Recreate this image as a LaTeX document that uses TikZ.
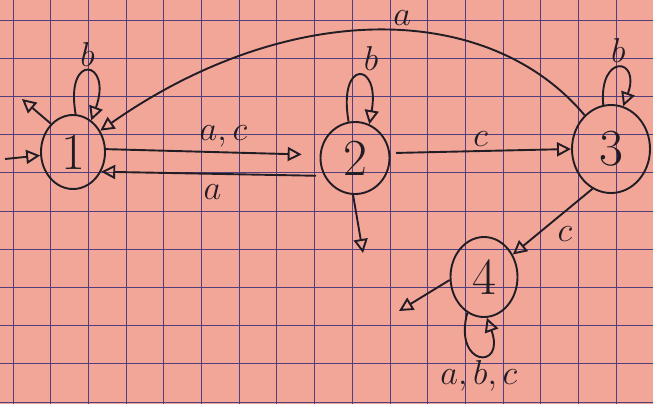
\documentclass[tikz,border=0pt]{standalone}
\usepackage{tikz}
\usetikzlibrary{shapes.geometric, arrows.meta, calc}
\definecolor{paperpink}{RGB}{241,166,152}
\definecolor{gridblue}{RGB}{82,62,124}
\definecolor{inkblack}{RGB}{34,28,36}

\begin{document}
\begin{tikzpicture}[x=0.5pt, y=0.5pt, line width=0.95pt, draw=inkblack, text=inkblack,
  state/.style={ellipse, draw, inner sep=0pt, font=\fontsize{26}{30}\selectfont},
  edge/.style={-{Triangle[open, length=7pt, width=7pt]}},
  lbl/.style={font=\fontsize{17}{20}\selectfont, inner sep=2pt}]
  % squared paper
  \fill[paperpink] (0,0) rectangle (653,404);
  \useasboundingbox (0,0) rectangle (653,404);
  \foreach \k in {0,...,17} \draw[gridblue, line width=0.5pt] ({13+37.7*\k},0) -- ++(0,404);
  \foreach \k in {0,...,10} \draw[gridblue, line width=0.5pt] (0,{384-38.2*\k}) -- ++(653,0);

  % states
  \node[state, minimum width=32pt, minimum height=37pt] (n1) at (73,252) {1};
  \node[state, minimum width=34.5pt, minimum height=36pt] (n2) at (355,246) {2};
  \node[state, minimum width=39pt, minimum height=44pt] (n3) at (611,255) {3};
  \node[state, minimum width=33.5pt, minimum height=40pt] (n4) at (484,127) {4};
  \coordinate (start) at (5,245);
  \coordinate (f1) at (22,305);
  \coordinate (f2) at (363,151);
  \coordinate (f4) at (399,93);

  % start and final arrows
  \draw[edge] (start) -- (n1.186);
  \draw[edge] (n1.128) -- (f1);
  \draw[edge] (n2.267) -- (f2);
  \draw[edge] (n4.185) -- (f4);

  % transitions
  \draw[edge, shorten >=9pt] (n1.5) -- (n2.175) node[lbl, pos=0.55, above] {$a,c$};
  \draw[edge, shorten <=4pt] (n2.210) -- (n1.-35) node[lbl, midway, below=3pt] {$a$};
  \draw[edge, shorten <=3pt] (n2.8) -- (n3.180) node[lbl, midway, above] {$c$};
  \draw[edge] (n3.128) .. controls +(130:75pt) and +(35:115pt) .. (n1.38) node[lbl, pos=0.45, above=0pt] {$a$};
  \draw[edge] (n3.245) -- (n4.38) node[lbl, midway, below right] {$c$};

  % loops
  \draw[edge] (n1.86) .. controls +(100:32pt) and +(70:32pt) .. (n1.60) node[lbl, pos=0.5, above] {$b$};
  \draw[edge] (n2.100) .. controls +(100:32pt) and +(80:32pt) .. (n2.67) node[lbl, pos=0.5, above right] {$b$};
  \draw[edge] (n3.100) .. controls +(95:26pt) and +(70:26pt) .. (n3.74) node[lbl, pos=0.5, above] {$b$};
  \draw[edge] (n4.245) .. controls +(255:28pt) and +(290:28pt) .. (n4.274) node[lbl, pos=0.5, below] {$a,b,c$};
\end{tikzpicture}
\end{document}
